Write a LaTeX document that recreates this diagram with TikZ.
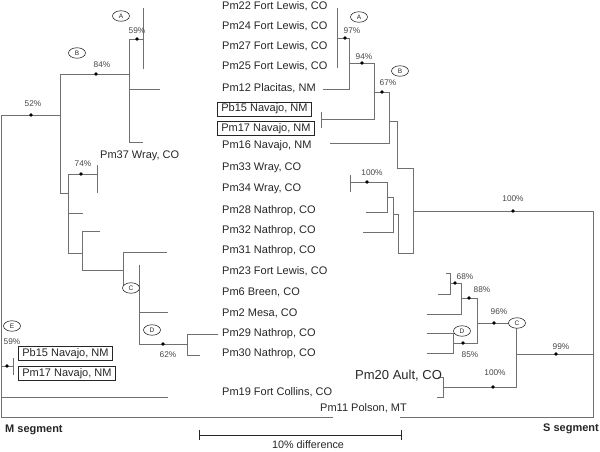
\documentclass[tikz,border=0pt]{standalone}
\usepackage{fontspec}
\setmainfont{Liberation Sans}
\usepackage{xcolor}
\usetikzlibrary{shapes.geometric}

\definecolor{branchgray}{RGB}{112,112,112}
\definecolor{labelgray}{RGB}{38,38,38}
\definecolor{pctgray}{RGB}{70,70,70}

\begin{document}
\begin{tikzpicture}[x=1pt,y=-1pt]

\tikzset{
    lineage/.style = {
    draw=branchgray,
    line width=0.9pt
    },
    txt/.style = {
    inner sep=0pt,
    text=labelgray,
    text height=8pt,
    text depth=2.3pt
    }
}

\tikzstyle{taxon}=[txt, anchor=west, font=\fontsize{11}{13}\selectfont]
\tikzstyle{boxed}=[txt, draw=labelgray, line width=0.7pt, inner xsep=4pt, inner ysep=2pt, anchor=west, font=\fontsize{11}{13}\selectfont]
\tikzstyle{pct}=[inner sep=0pt, text=pctgray, font=\fontsize{8.3}{9}\selectfont]
\tikzstyle{bootdot}=[circle, fill=black, inner sep=0pt, minimum size=3.8pt]
\tikzstyle{clade}=[ellipse, draw=labelgray, fill=white, line width=0.6pt, inner sep=0pt, minimum width=17pt, minimum height=10.5pt, text=labelgray, font=\fontsize{6.5}{7}\selectfont]

\useasboundingbox (0,0) rectangle (600,452);

% taxa in the middle
\node (l-22) [taxon] at (222,6.5) {Pm22 Fort Lewis, CO};
\node (l-24) [taxon] at (222,26.8) {Pm24 Fort Lewis, CO};
\node (l-27) [taxon] at (222,46.8) {Pm27 Fort Lewis, CO};
\node (l-25) [taxon] at (222,67) {Pm25 Fort Lewis, CO};
\node (l-12) [taxon] at (222,88.5) {Pm12 Placitas, NM};
\node (l-b15) [boxed] at (217,109) {Pb15 Navajo, NM};
\node (l-17) [boxed] at (217,128.3) {Pm17 Navajo, NM};
\node (l-16) [taxon] at (222,146) {Pm16 Navajo, NM};
\node (l-33) [taxon] at (222,168) {Pm33 Wray, CO};
\node (l-34) [taxon] at (222,189) {Pm34 Wray, CO};
\node (l-28) [taxon] at (222,211) {Pm28 Nathrop, CO};
\node (l-32) [taxon] at (222,231) {Pm32 Nathrop, CO};
\node (l-31) [taxon] at (222,250.5) {Pm31 Nathrop, CO};
\node (l-23) [taxon] at (222,271.5) {Pm23 Fort Lewis, CO};
\node (l-6) [taxon] at (222,292.5) {Pm6 Breen, CO};
\node (l-2) [taxon] at (222,314) {Pm2 Mesa, CO};
\node (l-29) [taxon] at (222,333.5) {Pm29 Nathrop, CO};
\node (l-30) [taxon] at (222,354) {Pm30 Nathrop, CO};
\node (l-19) [taxon] at (222,392.5) {Pm19 Fort Collins, CO};
\node (l-11) [taxon] at (320,409) {Pm11 Polson, MT};

% M segment
\coordinate (m-root) at (1,115);
\coordinate (m-52) at (60,115);
\coordinate (m-84) at (129,74);
\coordinate (m-59) at (143,39);
\coordinate (m-x1) at (68,193);
\coordinate (m-74) at (97,174);
\coordinate (m-x2) at (82,253);
\coordinate (m-x3) at (123,270);
\coordinate (m-c) at (139,288);
\coordinate (m-62) at (187,344);
\coordinate (m-e) at (13,366);
\coordinate (m-pm12) at (160,89);
\coordinate (m-pm16) at (143,142);
\coordinate (m-pm28) at (83,213);
\coordinate (m-pm32) at (100,231);
\coordinate (m-pm31) at (167,252);
\coordinate (m-pm2) at (168,312);
\coordinate (m-pm29) at (218,334);
\coordinate (m-pm30) at (200,355);
\coordinate (m-pm19) at (168,397);
\coordinate (m-pm11) at (333,417);

\draw[lineage] (m-root) |- (m-52);
\draw[lineage] (m-root) |- (m-e);
\draw[lineage] (m-root) |- (m-pm19);
\draw[lineage] (m-root) |- (m-pm11);
\draw[lineage] (m-52) |- (m-84);
\draw[lineage] (m-52) |- (m-x1);
\draw[lineage] (m-84) |- (m-59);
\draw[lineage] (m-84) |- (m-pm12);
\draw[lineage] (m-84) |- (m-pm16);
\draw[lineage] (m-59) ++(0,-31) -- ++(0,61);
\draw[lineage] (m-x1) |- (m-74);
\draw[lineage] (m-x1) |- (m-pm28);
\draw[lineage] (m-x1) |- (m-x2);
\draw[lineage] (m-74) ++(0,-9) -- ++(0,28);
\draw[lineage] (m-x2) |- (m-pm32);
\draw[lineage] (m-x2) |- (m-x3);
\draw[lineage] (m-x3) |- (m-pm31);
\draw[lineage] (m-x3) |- (m-c);
\draw[lineage] (m-c) -- ++(0,-23);
\draw[lineage] (m-c) |- (m-pm2);
\draw[lineage] (m-c) |- (m-62);
\draw[lineage] (m-62) |- (m-pm29);
\draw[lineage] (m-62) |- (m-pm30);
\draw[lineage] (m-e) ++(0,-8) -- ++(0,17);

\node (m-d52) [bootdot] at (31,115) {};
\node (m-d84) [bootdot] at (96,74) {};
\node (m-d59) [bootdot] at (137,39) {};
\node (m-d74) [bootdot] at (81,174) {};
\node (m-d62) [bootdot] at (163,344) {};
\node (m-de) [bootdot] at (7,366) {};

\node (m-p52) [pct] at (33,104) {52\%};
\node (m-p84) [pct] at (102,65) {84\%};
\node (m-p59) [pct] at (137,31) {59\%};
\node (m-p74) [pct] at (83,164) {74\%};
\node (m-p62) [pct] at (168,355) {62\%};
\node (m-pe) [pct] at (12,342) {59\%};

\node (m-ca) [clade] at (121,16) {A};
\node (m-cb) [clade] at (77,53) {B};
\node (m-cc) [clade] at (131,288) {C};
\node (m-cd) [clade] at (152,330) {D};
\node (m-ce) [clade] at (12,326) {E};

\node (m-37) [taxon] at (100,156) {Pm37 Wray, CO};
\node (m-b15) [boxed] at (18,353.2) {Pb15 Navajo, NM};
\node (m-17) [boxed] at (18,373.5) {Pm17 Navajo, NM};

% S segment
\coordinate (s-root) at (593,211);
\coordinate (s-100) at (413,211);
\coordinate (s-y1) at (397,168);
\coordinate (s-67) at (389,121);
\coordinate (s-x) at (374,92);
\coordinate (s-94) at (349,63);
\coordinate (s-97) at (337,38);
\coordinate (s-pm12) at (323,89);
\coordinate (s-nav) at (321,119);
\coordinate (s-pm16) at (330,143);
\coordinate (s-y2) at (398,253);
\coordinate (s-y3) at (393,214);
\coordinate (s-y4) at (387,197);
\coordinate (s-wray) at (350,182);
\coordinate (s-pm28) at (366,212);
\coordinate (s-pm32) at (363,232);
\coordinate (s-99) at (516,354);
\coordinate (s-96) at (477,323);
\coordinate (s-88) at (461,298);
\coordinate (s-68) at (450,283);
\coordinate (s-t1) at (446,273);
\coordinate (s-t2) at (438,294);
\coordinate (s-t3) at (427,314);
\coordinate (s-85) at (453,343);
\coordinate (s-t4) at (427,333);
\coordinate (s-t5) at (427,353);
\coordinate (s-ault) at (443,387);
\coordinate (s-t6) at (438,377);
\coordinate (s-t7) at (437,397);
\coordinate (s-pm11) at (400,417);

\draw[lineage] (s-root) |- (s-100);
\draw[lineage] (s-root) |- (s-99);
\draw[lineage] (s-root) |- (s-pm11);
\draw[lineage] (s-100) |- (s-y1);
\draw[lineage] (s-100) |- (s-y2);
\draw[lineage] (s-y1) |- (s-67);
\draw[lineage] (s-67) |- (s-x);
\draw[lineage] (s-67) |- (s-pm16);
\draw[lineage] (s-x) |- (s-94);
\draw[lineage] (s-x) |- (s-nav);
\draw[lineage] (s-94) |- (s-97);
\draw[lineage] (s-94) |- (s-pm12);
\draw[lineage] (s-97) ++(0,-30) -- ++(0,60);
\draw[lineage] (s-nav) ++(0,-7) -- ++(0,16);
\draw[lineage] (s-y2) |- (s-y3);
\draw[lineage] (s-y3) |- (s-y4);
\draw[lineage] (s-y3) |- (s-pm32);
\draw[lineage] (s-y4) |- (s-wray);
\draw[lineage] (s-y4) |- (s-pm28);
\draw[lineage] (s-wray) ++(0,-7) -- ++(0,17);
\draw[lineage] (s-99) |- (s-96);
\draw[lineage] (s-99) |- (s-ault);
\draw[lineage] (s-96) |- (s-88);
\draw[lineage] (s-96) |- (s-85);
\draw[lineage] (s-88) |- (s-68);
\draw[lineage] (s-88) |- (s-t3);
\draw[lineage] (s-68) |- (s-t1);
\draw[lineage] (s-68) |- (s-t2);
\draw[lineage] (s-85) |- (s-t4);
\draw[lineage] (s-85) |- (s-t5);
\draw[lineage] (s-ault) |- (s-t6);
\draw[lineage] (s-ault) |- (s-t7);

\node (s-d100) [bootdot] at (513,211) {};
\node (s-d67) [bootdot] at (382,92) {};
\node (s-d94) [bootdot] at (362,63) {};
\node (s-d97) [bootdot] at (345,38) {};
\node (s-dwray) [bootdot] at (367,182) {};
\node (s-d68) [bootdot] at (455,283) {};
\node (s-d88) [bootdot] at (469,298) {};
\node (s-d96) [bootdot] at (494,323) {};
\node (s-d85) [bootdot] at (463,343) {};
\node (s-d99) [bootdot] at (556,354) {};
\node (s-dault) [bootdot] at (493,387) {};

\node (s-p100) [pct] at (513,199) {100\%};
\node (s-p67) [pct] at (388,83) {67\%};
\node (s-p94) [pct] at (364,57) {94\%};
\node (s-p97) [pct] at (352,31) {97\%};
\node (s-pwray) [pct] at (372,173) {100\%};
\node (s-p68) [pct] at (465,277) {68\%};
\node (s-p88) [pct] at (482,290) {88\%};
\node (s-p96) [pct] at (499,312) {96\%};
\node (s-p85) [pct] at (470,355) {85\%};
\node (s-p99) [pct] at (561,347) {99\%};
\node (s-pault) [pct] at (495,373) {100\%};

\node (s-ca) [clade] at (359,17) {A};
\node (s-cb) [clade] at (400,71) {B};
\node (s-cc) [clade] at (517,323) {C};
\node (s-cd) [clade] at (462,331) {D};

\node (s-20) [txt, anchor=west, font=\fontsize{13}{15}\selectfont, text height=9.5pt, text depth=2.7pt] at (355,375.7) {Pm20 Ault, CO};

% scale and titles
\coordinate (bar-l) at (199,435);
\coordinate (bar-r) at (401,435);
\draw[labelgray, line width=0.9pt] (bar-l) -- (bar-r);
\draw[labelgray, line width=0.9pt] (bar-l) ++(0,-5) -- ++(0,10);
\draw[labelgray, line width=0.9pt] (bar-r) ++(0,-5) -- ++(0,10);
\node (bar-t) [txt, font=\fontsize{10.8}{12}\selectfont] at (308,446) {10\% difference};

\node (t-m) [txt, anchor=west, font=\bfseries\fontsize{11}{13}\selectfont] at (5,430) {M segment};
\node (t-s) [txt, anchor=east, font=\bfseries\fontsize{11}{13}\selectfont] at (599,428.5) {S segment};

\end{tikzpicture}
\end{document}
